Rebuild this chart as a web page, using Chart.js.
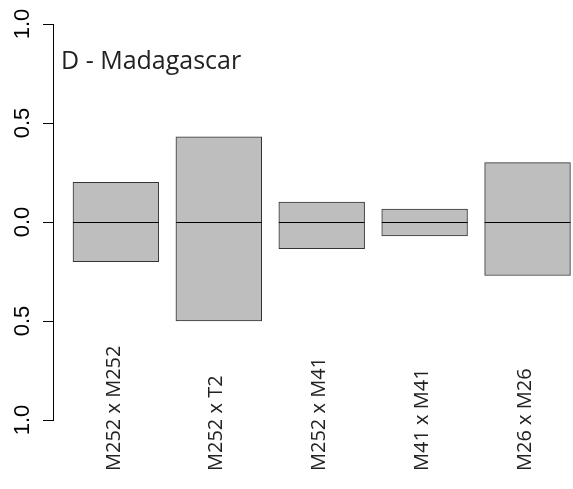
<!DOCTYPE html>
<html>
<head>
<meta charset="utf-8">
<script src="https://cdn.jsdelivr.net/npm/chart.js@4.4.1/dist/chart.umd.min.js"></script>
<style>
  html, body { margin: 0; padding: 0; background: #fff; }
  #wrap { width: 573px; height: 489px; position: relative; }
</style>
</head>
<body>
<div id="wrap"><canvas id="chart"></canvas></div>
<script>
// Dados do gráfico
const categories = ['M252 x M252', 'M252 x T2', 'M252 x M41', 'M41 x M41', 'M26 x M26'];
const barPositions = [0.7, 1.9, 3.1, 4.3, 5.5];
const upperValues = [0.20, 0.43, 0.10, 0.065, 0.30];
const lowerValues = [-0.20, -0.50, -0.135, -0.07, -0.27];
const yTicks = [-1, -0.5, 0, 0.5, 1];
const yTickLabels = ['1.0', '0.5', '0.0', '0.5', '1.0'];
const panelTitle = 'D - Madagascar';

const LABEL_FONT = '20px "Open Sans"';
const TITLE_FONT = '25px "Open Sans"';
const TICK_FONT = '22px "Liberation Sans"';

/**
 * Desenha a linha do zero em cada barra, os rótulos rotacionados e o título
 */
const overlayPlugin = {
  id: 'overlay',
  afterDatasetsDraw(chart) {
    const { ctx, scales: { x, y } } = chart;
    const zeroY = Math.round(y.getPixelForValue(0)) + 0.5;
    const bars = chart.getDatasetMeta(0).data;

    ctx.save();
    // Linha no zero dentro de cada barra
    ctx.strokeStyle = '#000';
    ctx.lineWidth = 1;
    bars.forEach(bar => {
      const half = bar.width / 2;
      ctx.beginPath();
      ctx.moveTo(bar.x - half, zeroY);
      ctx.lineTo(bar.x + half, zeroY);
      ctx.stroke();
    });

    // Rótulos do eixo Y, rotacionados como no R
    ctx.fillStyle = '#000';
    ctx.font = TICK_FONT;
    ctx.textAlign = 'center';
    ctx.textBaseline = 'middle';
    y.ticks.forEach((tick, i) => {
      ctx.save();
      ctx.translate(23, y.getPixelForValue(tick.value));
      ctx.rotate(-Math.PI / 2);
      ctx.fillText(yTickLabels[i], 0, 0);
      ctx.restore();
    });

    // Rótulos das categorias, lidos de baixo para cima
    ctx.fillStyle = '#222';
    ctx.font = LABEL_FONT;
    ctx.textAlign = 'left';
    const labelBase = y.getPixelForValue(-1) + 51;
    categories.forEach((name, i) => {
      ctx.save();
      ctx.translate(x.getPixelForValue(barPositions[i]) - 2, labelBase);
      ctx.rotate(-Math.PI / 2);
      ctx.fillText(name, 0, 0);
      ctx.restore();
    });

    // Título do painel
    ctx.font = TITLE_FONT;
    ctx.textBaseline = 'alphabetic';
    ctx.fillText(panelTitle, 61, 69);
    ctx.restore();
  }
};

new Chart(document.getElementById('chart'), {
  type: 'bar',
  data: {
    datasets: [{
      data: categories.map((name, i) => ({ x: barPositions[i], y: [lowerValues[i], upperValues[i]] })),
      backgroundColor: '#bebebe',
      borderColor: '#333',
      borderWidth: 1,
      borderSkipped: false,
      // a menor distância vem dos ticks do eixo x (1 unidade = largura da barra)
      barPercentage: 1,
      categoryPercentage: 1
    }]
  },
  options: {
    responsive: true,
    maintainAspectRatio: false,
    animation: false,
    layout: { padding: { top: 24, bottom: 69, left: 0, right: 0 } },
    plugins: { legend: { display: false }, tooltip: { enabled: false } },
    scales: {
      x: {
        type: 'linear',
        offset: false,
        min: -0.033,
        max: 6.03,
        display: false
      },
      y: {
        min: -1,
        max: 1,
        afterBuildTicks: scale => { scale.ticks = yTicks.map(v => ({ value: v })); },
        afterFit: scale => { scale.width = 53; },
        ticks: { display: false },
        grid: { drawOnChartArea: false, drawTicks: true, tickLength: 10, color: '#000' },
        border: { display: true, color: '#000', width: 1 }
      }
    }
  },
  plugins: [overlayPlugin]
});
</script>
</body>
</html>
